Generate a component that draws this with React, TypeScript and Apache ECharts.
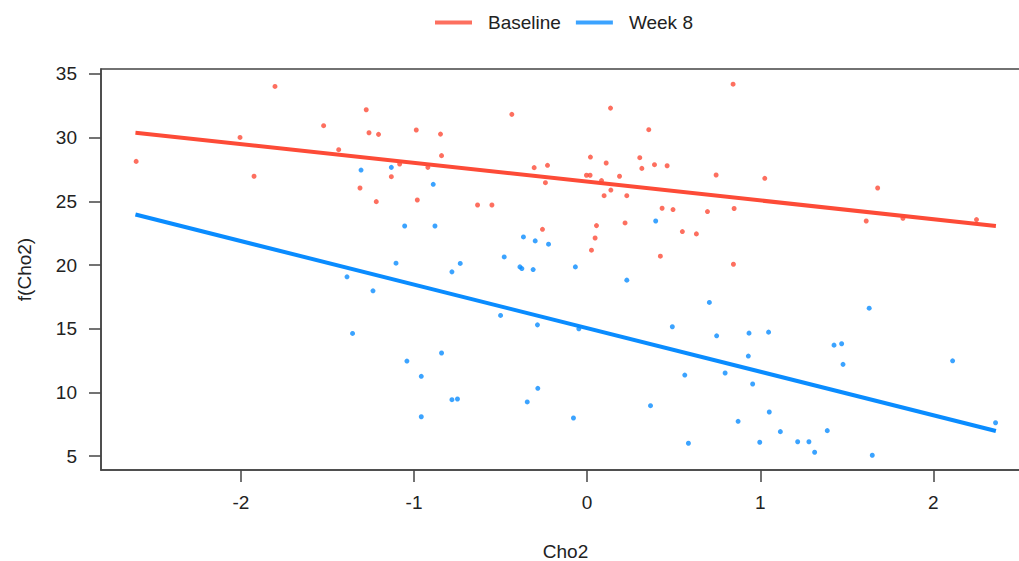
import React, { useEffect, useRef } from "react";
import * as echarts from "echarts";

const RED = "#FD4B37";
const BLUE = "#0A8CFF";

const xTicks = [-2, -1, 0, 1, 2];
const yTicks = [5, 10, 15, 20, 25, 30, 35];

const baselinePts: [number, number][] = [
  [-2.605, 28.14], [-2.005, 30.02], [-1.803, 34.02], [-1.924, 26.97], [-1.522, 30.94], [-1.435, 29.06],
  [-1.276, 32.19], [-1.26, 30.39], [-1.205, 30.26], [-0.987, 30.6], [-0.847, 30.28], [-0.841, 28.59],
  [-1.083, 27.93], [-0.92, 27.67], [-1.131, 26.94], [-1.312, 26.05], [-1.218, 24.98], [-0.981, 25.11],
  [-0.633, 24.72], [-0.55, 24.72], [-0.435, 31.83], [-0.306, 27.65], [-0.229, 27.83], [-0.241, 26.47],
  [0.019, 28.48], [-0.004, 27.05], [0.017, 27.05], [-0.258, 22.81], [0.054, 23.1], [0.046, 22.13],
  [0.025, 21.17], [0.843, 34.2], [0.135, 32.32], [0.356, 30.63], [0.11, 28.01], [0.304, 28.43],
  [0.316, 27.59], [0.389, 27.88], [0.462, 27.8], [0.083, 26.63], [0.187, 26.97], [0.137, 25.89],
  [0.098, 25.45], [0.229, 25.45], [0.745, 27.07], [1.026, 26.81], [0.433, 24.46], [0.496, 24.36],
  [0.695, 24.2], [0.849, 24.44], [0.219, 23.31], [0.55, 22.63], [0.631, 22.45], [0.423, 20.7],
  [0.845, 20.07], [1.678, 26.05], [1.612, 23.46], [1.824, 23.68], [2.249, 23.57],
];

const week8Pts: [number, number][] = [
  [-1.306, 27.46], [-1.131, 27.67], [-0.889, 26.34], [-1.054, 23.07], [-0.879, 23.07], [-0.368, 22.21],
  [-0.3, 21.9], [-0.223, 21.64], [-1.104, 20.15], [-0.733, 20.13], [-0.479, 20.64], [-0.388, 19.86],
  [-0.377, 19.73], [-0.312, 19.65], [-0.068, 19.86], [-0.781, 19.47], [-1.387, 19.08], [-1.237, 17.98],
  [-0.5, 16.05], [-0.287, 15.31], [-0.048, 15.0], [-1.355, 14.64], [-1.041, 12.47], [-0.841, 13.1],
  [-0.958, 11.27], [-0.781, 9.44], [-0.749, 9.49], [-0.346, 9.26], [-0.285, 10.33], [-0.958, 8.1],
  [-0.079, 8.0], [0.229, 18.82], [0.706, 17.07], [0.492, 15.16], [0.748, 14.45], [0.935, 14.66],
  [1.048, 14.74], [0.931, 12.86], [1.426, 13.72], [1.47, 13.83], [1.478, 12.21], [0.564, 11.37],
  [0.797, 11.53], [0.956, 10.67], [0.366, 8.97], [1.052, 8.47], [0.872, 7.74], [1.116, 6.93],
  [1.387, 7.01], [0.585, 6.02], [0.997, 6.1], [1.216, 6.14], [1.281, 6.14], [1.314, 5.31],
  [1.629, 16.62], [2.111, 12.49], [2.359, 7.63], [1.647, 5.08], [0.396, 23.46],
];

const baselineFit: [number, number][] = [[-2.609, 30.39], [2.361, 23.07]];
const week8Fit: [number, number][] = [[-2.609, 23.97], [2.361, 6.98]];

const FONT = "'Liberation Sans', Arial, Helvetica, sans-serif";
const TXT = "#222";
const FS = 19;

export default function App() {
  const ref = useRef<HTMLDivElement>(null);
  useEffect(() => {
    if (!ref.current) return;
    const chart = echarts.init(ref.current, undefined, { renderer: "svg" });
    chart.setOption({
      animation: false,
      backgroundColor: "#fff",
      textStyle: { fontFamily: FONT },
      legend: {
        left: 430,
        top: 8,
        itemWidth: 37,
        itemHeight: 4,
        itemGap: 15,
        data: [
          { name: "Baseline", icon: "rect" },
          { name: "Week 8", icon: "rect" },
        ],
        textStyle: { fontSize: FS, color: TXT, fontFamily: FONT, padding: [0, 0, 0, 11] },
      },
      grid: {
        left: 101,
        top: 69,
        width: 929,
        height: 401,
        show: true,
        borderColor: "#444",
        borderWidth: 1.5,
        backgroundColor: "transparent",
        containLabel: false,
        outerBoundsMode: "none",
      },
      xAxis: {
        type: "value",
        min: -2.808,
        max: 2.558,
        name: "Cho2",
        nameLocation: "middle",
        nameGap: 73,
        nameTextStyle: { fontSize: FS, lineHeight: 17, color: TXT, fontFamily: FONT },
        axisLine: { show: true, onZero: false, lineStyle: { color: "#444", width: 1.5 } },
        axisTick: { show: true, length: 12, customValues: xTicks, lineStyle: { color: "#444", width: 1.5 } },
        axisLabel: { customValues: xTicks, margin: 23, fontSize: FS, color: TXT, fontFamily: FONT },
        splitLine: { show: false },
      },
      yAxis: {
        type: "value",
        min: 3.92,
        max: 35.39,
        name: "f(Cho2)",
        nameLocation: "middle",
        nameGap: 67,
        nameTextStyle: { fontSize: FS, color: TXT, fontFamily: FONT },
        axisLine: { show: true, onZero: false, lineStyle: { color: "#444", width: 1.5 } },
        axisTick: { show: true, length: 12, customValues: yTicks, lineStyle: { color: "#444", width: 1.5 } },
        axisLabel: { customValues: yTicks, margin: 24, fontSize: FS, color: TXT, fontFamily: FONT },
        splitLine: { show: false },
      },
      series: [
        {
          name: "Baseline",
          type: "scatter",
          data: baselinePts,
          symbolSize: 5,
          itemStyle: { color: RED },
          z: 2,
        },
        {
          name: "Week 8",
          type: "scatter",
          data: week8Pts,
          symbolSize: 5,
          itemStyle: { color: BLUE },
          z: 2,
        },
        {
          name: "Baseline",
          type: "line",
          data: baselineFit,
          showSymbol: false,
          symbol: "none",
          lineStyle: { color: RED, width: 4 },
          itemStyle: { color: RED },
          z: 3,
        },
        {
          name: "Week 8",
          type: "line",
          data: week8Fit,
          showSymbol: false,
          symbol: "none",
          lineStyle: { color: BLUE, width: 4 },
          itemStyle: { color: BLUE },
          z: 3,
        },
      ],
    });
    return () => chart.dispose();
  }, []);
  return (
    <div
      ref={ref}
      style={{ position: "fixed", left: 0, top: 0, width: 1019, height: 561 }}
    />
  );
}
